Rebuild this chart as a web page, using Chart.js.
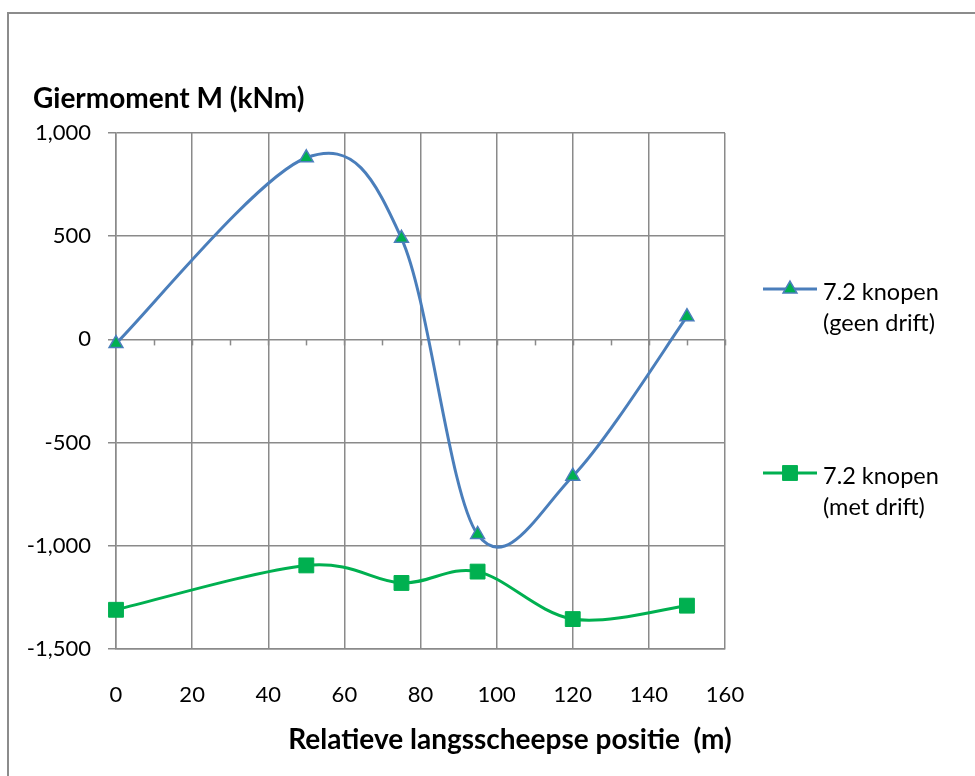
<!DOCTYPE html>
<html>
<head>
<meta charset="utf-8">
<script src="https://cdn.jsdelivr.net/npm/chart.js@4/dist/chart.umd.min.js"></script>
<style>
  html, body { margin: 0; padding: 0; background: #ffffff; }
  #wrap { width: 975px; height: 776px; }
</style>
</head>
<body>
<div id="wrap"><canvas id="chart" width="975" height="776"></canvas></div>
<script>
// Longitudinal positions (m)
const positions = [0, 50, 75, 95, 120, 150];
// Yaw moment M (kNm), 7.2 knots without drift
const yawNoDrift = [-20, 880, 490, -945, -663, 110];
// Yaw moment M (kNm), 7.2 knots with drift
const yawWithDrift = [-1310, -1095, -1180, -1125, -1355, -1290];
// Axis ranges and tick labels
const xTicks = [0, 20, 40, 60, 80, 100, 120, 140, 160];
const yTicks = [-1500, -1000, -500, 0, 500, 1000];
const seriesNames = [["7.2 knopen", "(geen drift)"], ["7.2 knopen", "(met drift)"]];
const yTitle = "Giermoment M (kNm)";
const xTitle = "Relatieve langsscheepse positie  (m)";

const BLUE = '#4a7ebb';
const GREEN = '#00b050';
const GRID = '#8a8a8a';
const FONT = 'Lato, "Open Sans", sans-serif';

const toPoints = (ys) => positions.map((x, i) => ({ x, y: ys[i] }));
const fmt = (v) => v.toLocaleString('en-US');

function drawMarker(ctx, style, r, x, y) {
  if (style === 'triangle') {
    ctx.moveTo(x, y - r);
    ctx.lineTo(x + Math.sin(2 * Math.PI / 3) * r, y + 0.5 * r);
    ctx.lineTo(x - Math.sin(2 * Math.PI / 3) * r, y + 0.5 * r);
    ctx.closePath();
  } else {
    const s = Math.SQRT1_2 * r;
    ctx.rect(x - s, y - s, 2 * s, 2 * s);
  }
}

// Spreadsheet-style smoothing: uniform Catmull-Rom control points (1/6 of the
// neighbour chord), applied to the pixel positions the scales produced.
const catmullRom = {
  id: 'catmullRom',
  beforeDatasetDraw(chart, args) {
    const meta = args.meta;
    meta.dataset.updateControlPoints(chart.chartArea, meta.iScale.axis);
    const pts = meta.data;
    const n = pts.length;
    for (let i = 0; i < n; i++) {
      const p = pts[i];
      const prev = pts[Math.max(i - 1, 0)];
      const next = pts[Math.min(i + 1, n - 1)];
      const dx = (next.x - prev.x) / 6;
      const dy = (next.y - prev.y) / 6;
      p.cp1x = p.x - dx; p.cp1y = p.y - dy;
      p.cp2x = p.x + dx; p.cp2y = p.y + dy;
    }
  }
};

const decorations = {
  id: 'decorations',
  beforeDraw(chart) {
    const ctx = chart.ctx;
    ctx.save();
    ctx.fillStyle = '#ffffff';
    ctx.fillRect(0, 0, chart.width, chart.height);
    // outer chart frame (top and left edges visible)
    ctx.strokeStyle = '#8c8c8c';
    ctx.lineWidth = 2;
    ctx.strokeRect(8, 13, 1200, 1200);
    ctx.restore();
  },
  beforeDatasetsDraw(chart) {
    const ctx = chart.ctx;
    const xs = chart.scales.x, ys = chart.scales.y;
    const y0 = ys.getPixelForValue(0);
    ctx.save();
    ctx.strokeStyle = GRID;
    ctx.lineWidth = 1.5;
    // small tick marks hanging under the zero line
    for (let v = xTicks[0]; v <= xTicks[xTicks.length - 1]; v += 10) {
      const px = Math.round(xs.getPixelForValue(v)) + 0.5;
      ctx.beginPath();
      ctx.moveTo(px, y0);
      ctx.lineTo(px, y0 + 6);
      ctx.stroke();
    }
    ctx.restore();
  },
  afterDraw(chart) {
    const ctx = chart.ctx;
    ctx.save();
    ctx.fillStyle = '#000000';
    ctx.textBaseline = 'middle';
    ctx.font = 'bold 28px ' + FONT;
    ctx.textAlign = 'left';
    ctx.fillText(yTitle, 33, 99);
    ctx.textAlign = 'center';
    ctx.fillText(xTitle, 510, 740);

    // legend
    const entries = [
      { y: 289, ds: chart.data.datasets[0] },
      { y: 473, ds: chart.data.datasets[1] }
    ];
    entries.forEach((e, i) => {
      ctx.strokeStyle = e.ds.borderColor;
      ctx.lineWidth = 3;
      ctx.beginPath();
      ctx.moveTo(763, e.y);
      ctx.lineTo(817, e.y);
      ctx.stroke();
      ctx.fillStyle = e.ds.pointBackgroundColor;
      ctx.strokeStyle = e.ds.pointBorderColor;
      ctx.lineWidth = e.ds.pointBorderWidth;
      ctx.beginPath();
      drawMarker(ctx, e.ds.pointStyle, e.ds.pointRadius, 790, e.y);
      ctx.fill();
      ctx.stroke();
      ctx.fillStyle = '#000000';
      ctx.font = '23.5px ' + FONT;
      ctx.textAlign = 'left';
      ctx.fillText(seriesNames[i][0], 823, e.y + 3);
      ctx.fillText(seriesNames[i][1], 823, e.y + 34);
    });
    ctx.restore();
  }
};

new Chart(document.getElementById('chart'), {
  type: 'line',
  data: {
    datasets: [
      {
        label: seriesNames[0].join(' '),
        data: toPoints(yawNoDrift),
        borderColor: BLUE,
        borderWidth: 3,
        tension: 0.4,
        clip: false,
        pointStyle: 'triangle',
        pointRadius: 8,
        pointHoverRadius: 8,
        pointBackgroundColor: GREEN,
        pointBorderColor: BLUE,
        pointBorderWidth: 1.5,
        fill: false
      },
      {
        label: seriesNames[1].join(' '),
        data: toPoints(yawWithDrift),
        borderColor: GREEN,
        borderWidth: 3,
        tension: 0.4,
        clip: false,
        pointStyle: 'rect',
        pointRadius: 10.5,
        pointHoverRadius: 10.5,
        pointBackgroundColor: GREEN,
        pointBorderColor: GREEN,
        pointBorderWidth: 1,
        fill: false
      }
    ]
  },
  options: {
    responsive: false,
    animation: false,
    devicePixelRatio: 1,
    layout: { padding: { left: 0, top: 133, right: 250, bottom: 0 } },
    plugins: { legend: { display: false }, tooltip: { enabled: false } },
    scales: {
      x: {
        type: 'linear',
        min: xTicks[0],
        max: xTicks[xTicks.length - 1],
        afterFit: (s) => { s.height = 127; },
        afterBuildTicks: (s) => { s.ticks = xTicks.map(v => ({ value: v })); },
        ticks: { color: '#000', font: { family: FONT, size: 22 }, padding: 33, maxRotation: 0, autoSkip: false, callback: (v) => fmt(v) },
        grid: { color: GRID, lineWidth: 1.5, drawTicks: false },
        border: { color: GRID, width: 1.5 }
      },
      y: {
        min: yTicks[0],
        max: yTicks[yTicks.length - 1],
        afterFit: (s) => { s.width = 116; },
        afterBuildTicks: (s) => { s.ticks = yTicks.map(v => ({ value: v })); },
        ticks: { color: '#000', font: { family: FONT, size: 22 }, padding: 17, autoSkip: false, callback: (v) => fmt(v) },
        grid: { color: GRID, lineWidth: 1.5, tickLength: 8 },
        border: { color: GRID, width: 1.5 }
      }
    }
  },
  plugins: [catmullRom, decorations]
});
</script>
</body>
</html>
